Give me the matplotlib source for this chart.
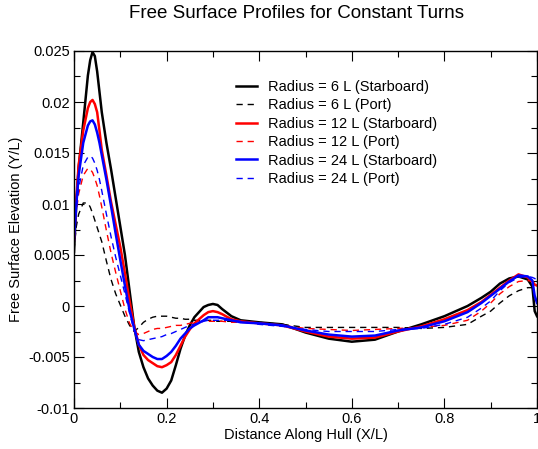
import matplotlib
matplotlib.use("Agg")
import matplotlib.pyplot as plt
from matplotlib.ticker import MultipleLocator

plt.rcParams['font.family'] = ['Liberation Sans', 'DejaVu Sans']

x = [0, 0.005, 0.01, 0.02, 0.03, 0.035, 0.04, 0.045, 0.05, 0.055, 0.06, 0.07, 0.08, 0.09, 0.10,
     0.11, 0.12, 0.13, 0.14, 0.15, 0.16, 0.17, 0.18, 0.19, 0.20, 0.21, 0.22, 0.23, 0.24, 0.25,
     0.26, 0.28, 0.29, 0.30, 0.31, 0.32, 0.34, 0.36, 0.40, 0.45, 0.50, 0.55, 0.60, 0.65, 0.70,
     0.75, 0.80, 0.85, 0.88, 0.90, 0.92, 0.94, 0.96, 0.98, 0.99, 0.995, 1.00]

r6_starboard = [0.0053, 0.0100, 0.0135, 0.0180, 0.0226, 0.0241, 0.0249, 0.0245, 0.0230, 0.0210, 0.0190,
                0.0160, 0.0134, 0.0106, 0.0078, 0.0050, 0.0015, -0.0020, -0.0045, -0.0060, -0.0071,
                -0.0078, -0.0083, -0.0085, -0.0081, -0.0073, -0.0058, -0.0042, -0.0029, -0.0019, -0.0011,
                -0.0001, 0.0001, 0.0002, 0.0001, -0.0003, -0.0010, -0.0014, -0.0016, -0.0018, -0.0026,
                -0.0032, -0.0035, -0.0033, -0.0025, -0.0018, -0.0010, 0.0000, 0.0008, 0.0014, 0.0022,
                0.0027, 0.0029, 0.0026, 0.0019, -0.0005, -0.0010]

r6_port = [0.0055, 0.0078, 0.0090, 0.0101, 0.0101, 0.0097, 0.0091, 0.0084, 0.0077, 0.0070, 0.0063,
           0.0044, 0.0026, 0.0012, 0.0001, -0.0010, -0.0019, -0.0025, -0.0021, -0.0016, -0.0013,
           -0.0011, -0.0010, -0.0010, -0.0010, -0.0011, -0.0012, -0.0012, -0.0013, -0.0013, -0.0014,
           -0.0014, -0.0014, -0.0014, -0.0015, -0.0015, -0.0015, -0.0015, -0.0016, -0.0018, -0.0021,
           -0.0021, -0.0021, -0.0021, -0.0021, -0.0022, -0.0021, -0.0018, -0.0010, -0.0005, 0.0003,
           0.0010, 0.0015, 0.0018, 0.0018, 0.0017, 0.0015]

r12_starboard = [0.0065, 0.0105, 0.0138, 0.0172, 0.0194, 0.0200, 0.0202, 0.0198, 0.0190, 0.0172, 0.0153,
                 0.0128, 0.0102, 0.0080, 0.0058, 0.0032, 0.0005, -0.0020, -0.0038, -0.0048, -0.0053,
                 -0.0056, -0.0059, -0.0060, -0.0058, -0.0055, -0.0048, -0.0039, -0.0030, -0.0023, -0.0017,
                 -0.0009, -0.0006, -0.0005, -0.0006, -0.0008, -0.0013, -0.0015, -0.0017, -0.0019, -0.0025,
                 -0.0030, -0.0032, -0.0031, -0.0025, -0.0020, -0.0013, -0.0004, 0.0004, 0.0011, 0.0018,
                 0.0025, 0.0031, 0.0028, 0.0024, 0.0021, 0.0020]

r12_port = [0.0065, 0.0092, 0.0110, 0.0128, 0.0135, 0.0134, 0.0131, 0.0125, 0.0118, 0.0108, 0.0097,
            0.0074, 0.0052, 0.0033, 0.0015, -0.0003, -0.0017, -0.0025, -0.0028, -0.0027, -0.0025,
            -0.0023, -0.0022, -0.0022, -0.0021, -0.0020, -0.0019, -0.0019, -0.0018, -0.0017, -0.0016,
            -0.0015, -0.0015, -0.0015, -0.0015, -0.0015, -0.0016, -0.0016, -0.0017, -0.0019, -0.0022,
            -0.0023, -0.0024, -0.0023, -0.0022, -0.0021, -0.0019, -0.0014, -0.0005, 0.0003, 0.0012,
            0.0019, 0.0024, 0.0025, 0.0024, 0.0023, 0.0022]

r24_starboard = [0.0065, 0.0100, 0.0128, 0.0160, 0.0177, 0.0181, 0.0182, 0.0178, 0.0170, 0.0160, 0.0148,
                 0.0124, 0.0098, 0.0071, 0.0045, 0.0020, -0.0004, -0.0022, -0.0038, -0.0044, -0.0047,
                 -0.0050, -0.0052, -0.0052, -0.0049, -0.0045, -0.0039, -0.0032, -0.0027, -0.0022, -0.0019,
                 -0.0014, -0.0011, -0.0011, -0.0011, -0.0012, -0.0014, -0.0016, -0.0017, -0.0019, -0.0024,
                 -0.0028, -0.0030, -0.0029, -0.0024, -0.0021, -0.0015, -0.0006, 0.0003, 0.0010, 0.0017,
                 0.0024, 0.0030, 0.0029, 0.0025, 0.0010, 0.0003]

r24_port = [0.0065, 0.0095, 0.0115, 0.0138, 0.0146, 0.0147, 0.0145, 0.0140, 0.0133, 0.0124, 0.0113,
            0.0090, 0.0068, 0.0048, 0.0030, 0.0012, -0.0007, -0.0024, -0.0033, -0.0034, -0.0033,
            -0.0032, -0.0031, -0.0030, -0.0028, -0.0027, -0.0025, -0.0023, -0.0021, -0.0019, -0.0018,
            -0.0015, -0.0014, -0.0014, -0.0014, -0.0014, -0.0014, -0.0015, -0.0018, -0.0020, -0.0023,
            -0.0025, -0.0025, -0.0025, -0.0023, -0.0022, -0.0018, -0.0011, -0.0002, 0.0005, 0.0015,
            0.0023, 0.0028, 0.0029, 0.0028, 0.0027, 0.0025]

labels = ["Radius = 6 L (Starboard)", "Radius = 6 L (Port)",
          "Radius = 12 L (Starboard)", "Radius = 12 L (Port)",
          "Radius = 24 L (Starboard)", "Radius = 24 L (Port)"]

fig = plt.figure(figsize=(5.38, 4.49), dpi=100)
ax = fig.add_axes([74/538, 41/449, 463/538, 357/449])

series = [(r6_starboard, 'black', True), (r6_port, 'black', False),
          (r12_starboard, 'red', True), (r12_port, 'red', False),
          (r24_starboard, 'blue', True), (r24_port, 'blue', False)]
for (y, c, solid), lab in zip(series, labels):
    if solid:
        ax.plot(x, y, color=c, lw=1.8, label=lab, solid_joinstyle='round')
    else:
        ax.plot(x, y, color=c, lw=1.0, dashes=(4.5, 3.5), label=lab)

ax.set_xlim(0, 1)
ax.set_ylim(-0.01, 0.025)
ax.xaxis.set_minor_locator(MultipleLocator(0.1))
ax.yaxis.set_minor_locator(MultipleLocator(0.0025))
ax.set_xticks([0, 0.2, 0.4, 0.6, 0.8, 1.0])
ax.set_xticklabels(["0", "0.2", "0.4", "0.6", "0.8", "1"])
ax.set_yticks([-0.01, -0.005, 0, 0.005, 0.01, 0.015, 0.02, 0.025])
ax.set_yticklabels(["-0.01", "-0.005", "0", "0.005", "0.01", "0.015", "0.02", "0.025"])
ax.tick_params(which='both', direction='in', top=True, right=True, labelsize=10.5, width=0.8)
ax.tick_params(which='major', length=7, pad=3)
ax.tick_params(which='minor', length=4)
for s in ax.spines.values():
    s.set_linewidth(1.0)

ax.set_xlabel("Distance Along Hull (X/L)", fontsize=10.5, labelpad=1)
ax.set_ylabel("Free Surface Elevation (Y/L)", fontsize=10.5, labelpad=4)

fig.text(297/538, 1 - 14/449, "Free Surface Profiles for Constant Turns",
         ha='center', va='center', fontsize=13.5)

ax.legend(loc='upper left', bbox_to_anchor=(236/538, 1 - 80/449), bbox_transform=fig.transFigure,
          frameon=False, fontsize=10.5, handlelength=1.45, handletextpad=0.75,
          labelspacing=0.3, borderpad=0, borderaxespad=0)

fig.savefig("out.png", dpi=100)
